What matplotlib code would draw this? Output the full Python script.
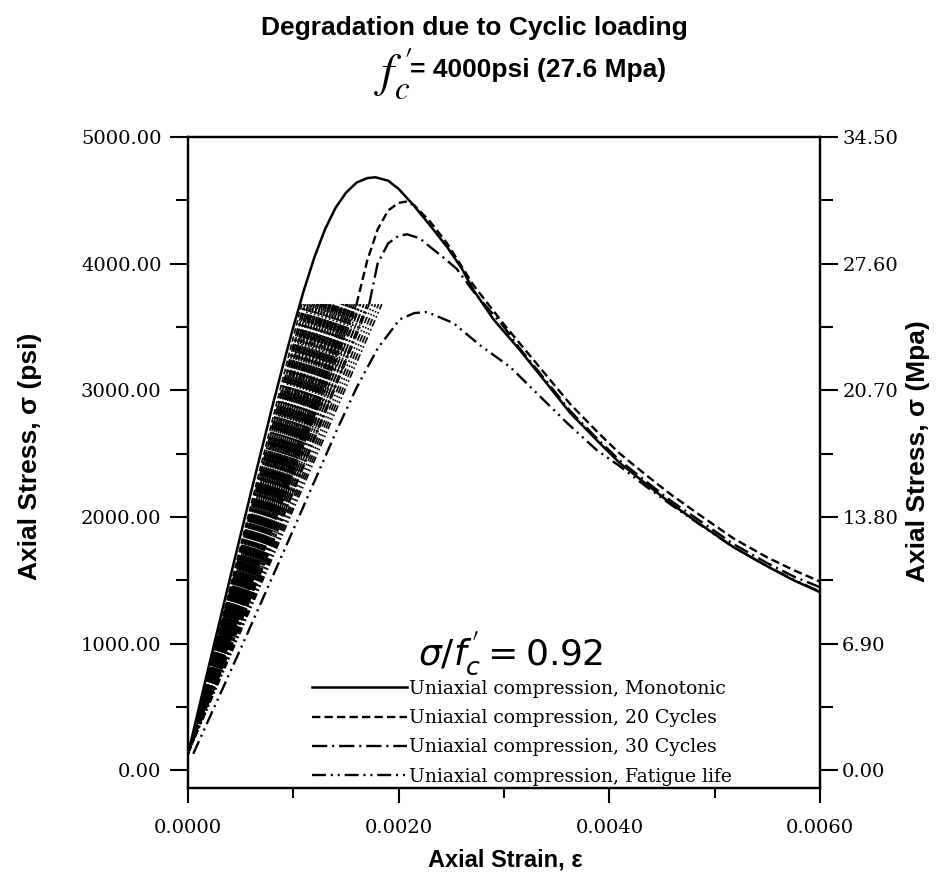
import numpy as np
import matplotlib
matplotlib.use("Agg")
import matplotlib.pyplot as plt
from matplotlib.lines import Line2D
from matplotlib.ticker import FixedLocator, MultipleLocator, FormatStrFormatter

plt.rcParams['lines.scale_dashes'] = False

# strain in units of 1e-3, stress in psi
mono_strain = [0.0, 0.2, 0.4, 0.6, 0.8, 0.9, 1.0, 1.1, 1.2, 1.3, 1.4, 1.5, 1.6, 1.7, 1.78,
               1.9, 2.0, 2.14, 2.3, 2.46, 2.6, 2.71, 2.9, 3.15, 3.4, 3.63, 3.9, 4.1, 4.35,
               4.58, 4.85, 5.18, 5.5, 5.75, 6.0]
mono_stress = [130, 830, 1520, 2200, 2870, 3190, 3500, 3790, 4050, 4270, 4440, 4560, 4640,
               4675, 4682, 4655, 4590, 4463, 4300, 4131, 3960, 3791, 3560, 3318, 3060, 2820,
               2590, 2425, 2260, 2109, 1950, 1761, 1610, 1500, 1406]

c20_strain = [1.60, 1.70, 1.80, 1.90, 2.00, 2.07, 2.15, 2.3, 2.46, 2.71, 3.0, 3.15, 3.4, 3.63,
              3.9, 4.1, 4.35, 4.58, 4.85, 5.18, 5.5, 5.75, 6.0]
c20_stress = [3680, 4020, 4270, 4420, 4480, 4490, 4460, 4330, 4160, 3830, 3520, 3370, 3120,
              2890, 2660, 2500, 2330, 2180, 2020, 1830, 1680, 1580, 1490]

c30_strain = [1.72, 1.80, 1.90, 2.00, 2.08, 2.2, 2.3, 2.42, 2.55, 2.71, 3.0, 3.15, 3.4, 3.63,
              3.9, 4.1, 4.35, 4.58, 4.85, 5.18, 5.5, 5.75, 6.0]
c30_stress = [3680, 4000, 4160, 4220, 4232, 4200, 4131, 4052, 3960, 3780, 3500, 3330, 3075,
              2835, 2605, 2445, 2280, 2130, 1975, 1785, 1635, 1530, 1445]

fat_strain = [0.05, 0.5, 1.0, 1.41, 1.6, 1.8, 2.01, 2.15, 2.27, 2.52, 2.77, 3.06, 3.31, 3.6,
              3.88, 4.1, 4.35, 4.58, 4.85, 5.18, 5.5, 5.75, 6.0]
fat_stress = [130, 960, 1900, 2680, 3020, 3330, 3560, 3610, 3618, 3531, 3357, 3183, 2978,
              2741, 2528, 2400, 2240, 2100, 1945, 1760, 1610, 1505, 1410]

# cyclic loops: peak strain of each cycle at the stress cap (0.92 f'c)
cap_stress = 3680
base_stress = 130
peaks_20 = [1.08, 1.11, 1.14, 1.17, 1.20, 1.23, 1.26, 1.29, 1.32, 1.35, 1.38, 1.41, 1.44,
            1.47, 1.50, 1.52, 1.54, 1.56, 1.58, 1.60]
peaks_30 = [1.10, 1.12, 1.14, 1.16, 1.18, 1.20, 1.22, 1.24, 1.26, 1.28, 1.30, 1.32, 1.34,
            1.36, 1.38, 1.40, 1.42, 1.44, 1.46, 1.48, 1.50, 1.52, 1.54, 1.56, 1.58, 1.61,
            1.64, 1.67, 1.70, 1.72]
peaks_fat = [1.15, 1.19, 1.23, 1.27, 1.31, 1.35, 1.39, 1.43, 1.47, 1.51, 1.55, 1.59, 1.63,
             1.67, 1.71, 1.75, 1.78, 1.81, 1.84]

labels = ['Uniaxial compression, Monotonic', 'Uniaxial compression, 20 Cycles',
          'Uniaxial compression, 30 Cycles', 'Uniaxial compression, Fatigue life']

psi_ticks = [0, 1000, 2000, 3000, 4000, 5000]
mpa_ticks = [0, 6.9, 13.8, 20.7, 27.6, 34.5]
strain_ticks = [0, 0.002, 0.004, 0.006]

sty_solid = dict(color='black', lw=1.8, linestyle='-')
sty_20 = dict(color='black', lw=1.7, linestyle=(0, (6, 3)))
sty_30 = dict(color='black', lw=1.7, linestyle=(0, (11, 3.5, 1.5, 3.5)))
sty_fat = dict(color='black', lw=1.7, linestyle=(0, (10, 3.5, 1.5, 3.5, 1.5, 3.5)))

fig = plt.figure(figsize=(9.48, 8.85), dpi=100)
ax = fig.add_axes([0.1983, 0.1096, 0.6667, 0.7356])

ms = 1e-3
for p in peaks_30:
    ax.plot([0, p * ms], [base_stress, cap_stress], color='black', lw=1.2,
            linestyle=(0, (6, 2, 1.5, 2)))
for p in peaks_fat:
    ax.plot([0, p * ms], [base_stress, cap_stress], color='black', lw=1.2,
            linestyle=(0, (5, 2, 1.2, 2, 1.2, 2)))
for p in peaks_20:
    ax.plot([0, p * ms], [base_stress, cap_stress], color='black', lw=1.2,
            linestyle=(0, (4, 2)))

ax.plot(np.array(fat_strain) * ms, fat_stress, **sty_fat)
ax.plot(np.array(c30_strain) * ms, c30_stress, **sty_30)
ax.plot(np.array(c20_strain) * ms, c20_stress, **sty_20)
ax.plot(np.array(mono_strain) * ms, mono_stress, **sty_solid)

ax.set_xlim(0, 0.006)
ax.set_ylim(-140, 5000)

ax.xaxis.set_major_locator(FixedLocator(strain_ticks))
ax.xaxis.set_minor_locator(MultipleLocator(0.001))
ax.xaxis.set_major_formatter(FormatStrFormatter('%.4f'))
ax.yaxis.set_major_locator(FixedLocator(psi_ticks))
ax.yaxis.set_minor_locator(FixedLocator([500, 1500, 2500, 3500, 4500]))
ax.yaxis.set_major_formatter(FormatStrFormatter('%.2f'))

ax2 = ax.twinx()
ax2.set_ylim(-140 * 0.0069, 34.5)
ax2.yaxis.set_major_locator(FixedLocator(mpa_ticks))
ax2.yaxis.set_minor_locator(FixedLocator([3.45, 10.35, 17.25, 24.15, 31.05]))
ax2.yaxis.set_major_formatter(FormatStrFormatter('%.2f'))

for a in (ax, ax2):
    for s in a.spines.values():
        s.set_linewidth(1.6)
    a.tick_params(which='major', direction='out', length=13, width=1.5, pad=6,
                  labelsize=14, labelfontfamily='DejaVu Serif')
    a.tick_params(which='minor', direction='out', length=9, width=1.5)
ax.tick_params(axis='x', which='major', length=11, pad=11)
ax.tick_params(axis='x', which='minor', length=7)
ax2.tick_params(axis='y', which='major', pad=3)

handles = [Line2D([], [], **sty_solid), Line2D([], [], **sty_20),
           Line2D([], [], **sty_30), Line2D([], [], **sty_fat)]
ax.legend(handles, labels, loc='upper left', bbox_to_anchor=(0.196, 0.166),
          frameon=False, prop={'family': 'DejaVu Serif', 'size': 13.5},
          handlelength=5.1, handletextpad=0.1, labelspacing=0.6,
          borderpad=0, borderaxespad=0)

ax.text(0.51, 0.207, r"$\sigma/f_c^{\,'} = 0.92$", transform=ax.transAxes,
        ha='center', va='center', fontsize=26)

fig.text(0.50, 0.968, 'Degradation due to Cyclic loading', ha='center', va='center',
         fontsize=19, fontweight='bold', family='Liberation Sans')
fig.text(0.415, 0.917, r"$f_c^{\,\prime}$", ha='center', va='center', fontsize=34,
         math_fontfamily='stix')
fig.text(0.432, 0.921, '= 4000psi (27.6 Mpa)', ha='left', va='center',
         fontsize=19, fontweight='bold', family='Liberation Sans')

fig.text(0.032, 0.484, u'Axial Stress, \u03c3 (psi)', rotation=90, ha='center', va='center',
         fontsize=19, fontweight='bold', family='Liberation Sans')
fig.text(0.968, 0.49, u'Axial Stress, \u03c3 (Mpa)', rotation=90, ha='center', va='center',
         fontsize=19, fontweight='bold', family='Liberation Sans')
fig.text(0.533, 0.028, u'Axial Strain, \u03b5', ha='center', va='center',
         fontsize=17, fontweight='bold', family='Liberation Sans')

fig.savefig('out.png', dpi=100)
